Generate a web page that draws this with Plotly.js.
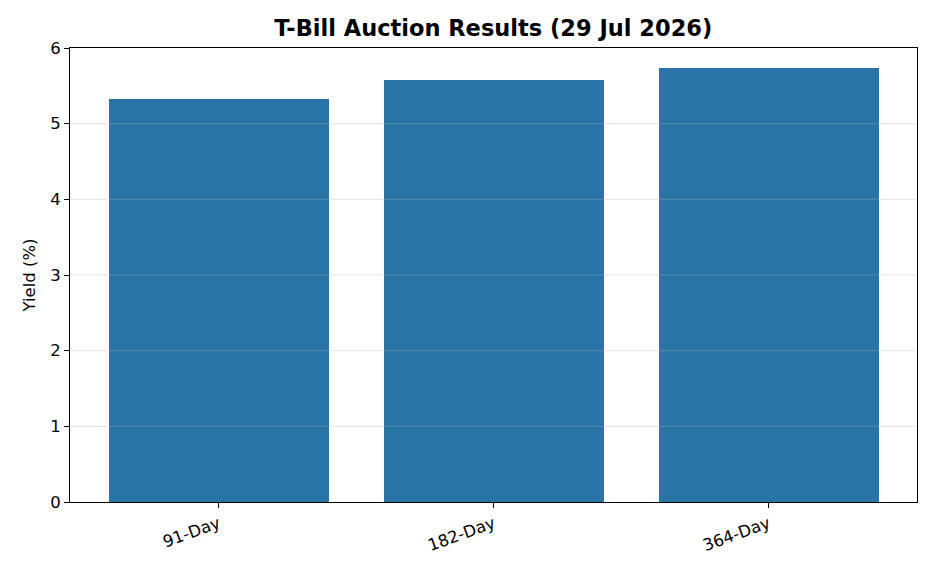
<!DOCTYPE html>
<html>
<head>
<meta charset="utf-8">
<script src="https://cdn.plot.ly/plotly-3.0.1.min.js"></script>
<style>
  html, body { margin: 0; padding: 0; background: #fff; }
  #chart { width: 936px; height: 572px; }
</style>
</head>
<body>
<div id="chart"></div>
<script>
var tenors = ["91-Day", "182-Day", "364-Day"];
var yields = [5.33, 5.58, 5.73];
var yTicks = [0, 1, 2, 3, 4, 5, 6];

var trace = {
  type: "bar",
  x: [0, 1, 2],
  y: yields,
  width: 0.8,
  marker: { color: "#2874a6" },
  hoverinfo: "skip"
};

// grid drawn over the bars, like the original
var gridShapes = yTicks.slice(1, -1).map(function (t) {
  return {
    type: "line", xref: "paper", yref: "y",
    x0: 0, x1: 1, y0: t, y1: t,
    layer: "above",
    line: { color: "rgba(180,180,180,0.35)", width: 1 }
  };
});

var layout = {
  width: 936,
  height: 572,
  margin: { l: 70, r: 19, t: 48, b: 70 },
  paper_bgcolor: "#fff",
  plot_bgcolor: "#fff",
  font: { family: "DejaVu Sans", size: 16, color: "#000" },
  title: {
    text: "<b>T-Bill Auction Results (29 Jul 2026)</b>",
    font: { family: "DejaVu Sans", size: 22.5, color: "#000" },
    x: 0.527, xanchor: "center",
    y: 0.95, yanchor: "middle"
  },
  showlegend: false,
  bargap: 0,
  shapes: gridShapes,
  xaxis: {
    range: [-0.54, 2.54],
    tickvals: [0, 1, 2],
    ticktext: tenors,
    tickangle: -20,
    ticks: "outside",
    ticklen: 5,
    tickcolor: "#000",
    showgrid: false,
    zeroline: false,
    showline: true,
    linecolor: "#000",
    linewidth: 1,
    mirror: true,
    tickfont: { size: 16.5 }
  },
  yaxis: {
    range: [0, 6],
    tickvals: yTicks,
    ticks: "outside",
    ticklen: 5,
    tickcolor: "#000",
    showgrid: false,
    zeroline: false,
    showline: true,
    linecolor: "#000",
    linewidth: 1,
    mirror: true,
    tickfont: { size: 16.5 },
    title: { text: "Yield (%)", font: { size: 16.5 }, standoff: 10 }
  }
};

Plotly.newPlot("chart", [trace], layout, { staticPlot: true, displayModeBar: false });
</script>
</body>
</html>
